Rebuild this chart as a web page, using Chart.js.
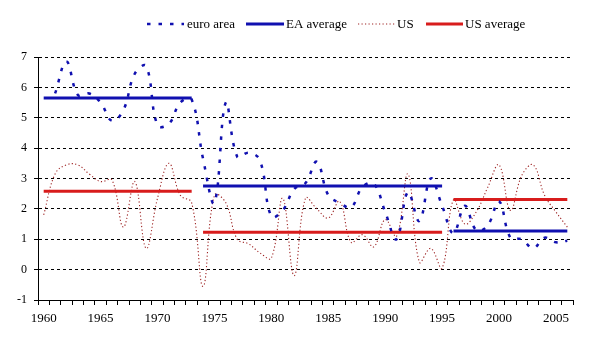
<!DOCTYPE html>
<html>
<head>
<meta charset="utf-8">
<script src="https://cdn.jsdelivr.net/npm/chart.js@4.4.1/dist/chart.umd.min.js"></script>
<style>
html,body{margin:0;padding:0;background:#fff;}
#wrap{width:590px;height:349px;position:relative;}
</style>
</head>
<body>
<div id="wrap"><canvas id="c" width="590" height="349"></canvas></div>
<script>
// ---- data ----
const years = [];
for (let y = 1960; y <= 2006; y++) years.push(String(y));

const euroArea = [null, 5.8, 6.85, 5.75, 5.8, 5.5, 4.9, 5.25, 6.45, 6.7,
  4.75, 4.8, 5.5, 5.6, 3.65, 2.2, 5.5, 3.72, 3.85, 3.6,
  1.75, 1.95, 2.65, 2.85, 3.55, 2.45, 2.2, 2.05, 2.72, 2.83,
  1.9, 1.0, 2.55, 1.6, 3.0, 2.1, 1.2, 2.1, 1.3, 1.45,
  2.25, 1.05, 1.0, 0.7, 1.05, 0.9, 0.95];

const us = [1.8, 3.15, 3.45, 3.45, 3.15, 2.9, 2.95, 1.4, 2.9, 0.7,
  2.35, 3.5, 2.45, 2.2, -0.55, 2.45, 2.2, 1.0, 0.85, 0.55,
  0.38, 2.35, -0.2, 2.35, 2.0, 1.7, 2.25, 0.9, 1.15, 0.75,
  1.65, 1.1, 3.15, 0.25, 0.7, 0.05, 2.3, 1.5, 1.9, 2.7,
  3.45, 1.95, 3.1, 3.45, 2.45, 1.9, 1.4];

const periods = [[1960, 1973], [1974, 1995], [1996, 2006]];
const eaAverage = [5.65, 2.75, 1.27];
const usAverage = [2.58, 1.23, 2.31];

const yTicks = [-1, 0, 1, 2, 3, 4, 5, 6, 7];

// ---- styles ----
const BLUE = '#1010B0';
const RED = '#D81C1C';
const USCOL = '#9E2424';
const EA_DASH = [3.5, 8];
const US_DASH = [1.2, 2.3];

function periodSeries(vals, idx) {
  return years.map(y => {
    const yy = +y;
    return (yy >= periods[idx][0] && yy <= periods[idx][1]) ? vals[idx] : null;
  });
}

const datasets = [];
datasets.push({label: 'euro area', data: euroArea, borderColor: BLUE, borderWidth: 2.5,
  borderDash: EA_DASH, tension: 0.4, pointRadius: 0, fill: false, order: 1});
periods.forEach((p, i) => datasets.push({label: 'EA average', data: periodSeries(eaAverage, i),
  borderColor: BLUE, borderWidth: 3, pointRadius: 0, fill: false, tension: 0, order: 2}));
datasets.push({label: 'US', data: us, borderColor: USCOL, borderWidth: 1.1,
  borderDash: US_DASH, tension: 0.4, pointRadius: 0, fill: false, order: 3});
periods.forEach((p, i) => datasets.push({label: 'US average', data: periodSeries(usAverage, i),
  borderColor: RED, borderWidth: 3, pointRadius: 0, fill: false, tension: 0, order: 2}));

const legendItems = [
  {text: 'euro area', color: BLUE, width: 2.5, dash: EA_DASH, x1: 147, x2: 184, tx: 187},
  {text: 'EA average', color: BLUE, width: 3, dash: [], x1: 246, x2: 284, tx: 286},
  {text: 'US', color: USCOL, width: 1.1, dash: US_DASH, x1: 358, x2: 395, tx: 397},
  {text: 'US average', color: RED, width: 3, dash: [], x1: 426, x2: 463, tx: 465}
];

const legendPlugin = {
  id: 'customLegend',
  afterDraw(chart) {
    const ctx = chart.ctx;
    ctx.save();
    const ly = 24;
    legendItems.forEach(it => {
      ctx.beginPath();
      ctx.strokeStyle = it.color;
      ctx.lineWidth = it.width;
      ctx.setLineDash(it.dash);
      ctx.moveTo(it.x1, ly);
      ctx.lineTo(it.x2, ly);
      ctx.stroke();
      ctx.setLineDash([]);
      ctx.fillStyle = '#000';
      ctx.font = '13px "Liberation Serif", "Times New Roman", serif';
      ctx.textBaseline = 'middle';
      ctx.textAlign = 'left';
      ctx.fillText(it.text, it.tx, ly + 1);
    });
    ctx.restore();
  }
};

new Chart(document.getElementById('c'), {
  type: 'line',
  data: {labels: years, datasets: datasets},
  plugins: [legendPlugin],
  options: {
    responsive: false,
    animation: false,
    spanGaps: false,
    layout: {padding: {top: 57, right: 17, left: 0, bottom: 0}},
    plugins: {legend: {display: false}, tooltip: {enabled: false}},
    scales: {
      x: {
        type: 'category',
        offset: true,
        grid: {display: true, offset: true, drawOnChartArea: false, drawTicks: true,
          tickLength: 5, tickColor: '#000', color: '#000'},
        border: {display: true, color: '#000', width: 1},
        ticks: {
          autoSkip: false, maxRotation: 0, minRotation: 0, padding: 6,
          color: '#000',
          font: {family: '"Liberation Serif", "Times New Roman", serif', size: 13},
          callback: function(v, i) { const y = +years[i]; return (y % 5 === 0) ? String(y) : ''; }
        },
        afterFit: s => { s.height = 49; }
      },
      y: {
        min: -1, max: 7,
        afterBuildTicks: s => { s.ticks = yTicks.map(v => ({value: v})); },
        grid: {display: true, color: '#000', lineWidth: 1, drawTicks: true, tickLength: 4,
          tickColor: '#000', tickBorderDash: []},
        border: {display: true, color: '#000', width: 1, dash: [3, 3]},
        ticks: {
          padding: 7, color: '#000',
          font: {family: '"Liberation Serif", "Times New Roman", serif', size: 12}
        },
        afterFit: s => { s.width = 38; }
      }
    }
  }
});
</script>
</body>
</html>
